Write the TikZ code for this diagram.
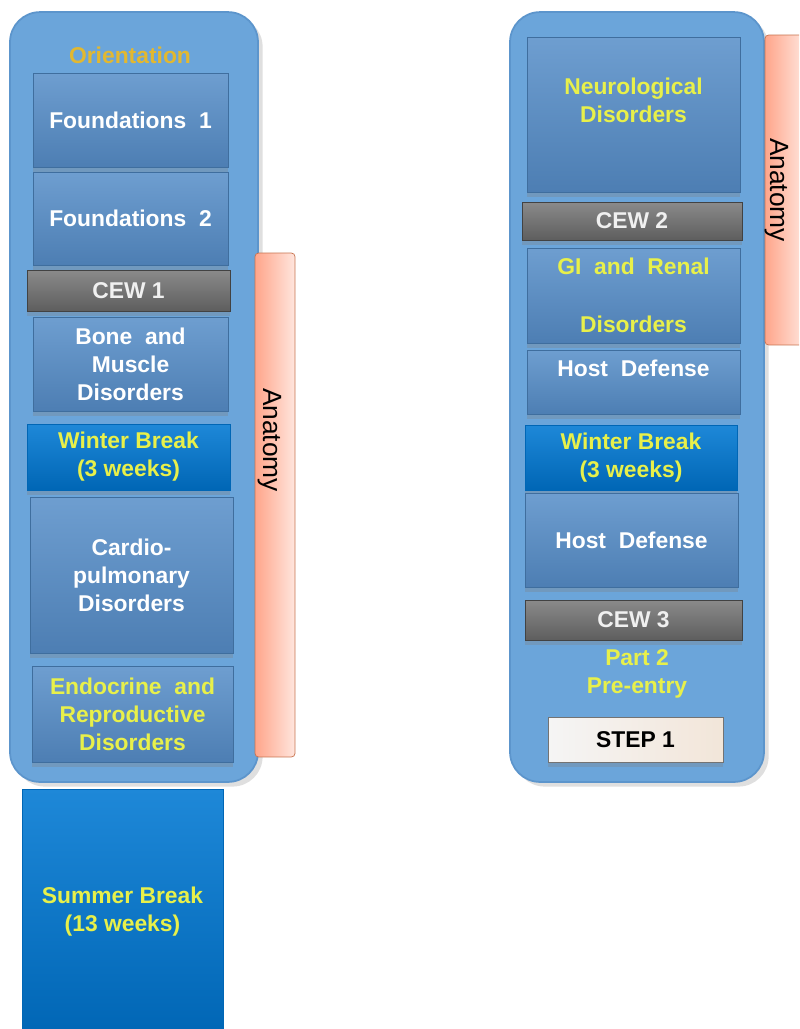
\documentclass[tikz,border=0pt]{standalone}
\usepackage{fontspec}
\setmainfont{Liberation Sans}
\usetikzlibrary{shadows}
\definecolor{colblue}{HTML}{6BA5DA}
\definecolor{colline}{HTML}{5C95CC}
\definecolor{blktop}{HTML}{6E9ED0}
\definecolor{blkbot}{HTML}{4D7EB3}
\definecolor{blkline}{HTML}{3F6E9E}
\definecolor{brktop}{HTML}{1E88D8}
\definecolor{brkbot}{HTML}{0066B5}
\definecolor{cewtop}{HTML}{8A8A8A}
\definecolor{cewbot}{HTML}{5E5E5E}
\definecolor{yel}{HTML}{E8F04A}
\definecolor{orient}{HTML}{E2B830}
\definecolor{anatleft}{HTML}{FFA58A}
\definecolor{anatright}{HTML}{FFE6DE}
\definecolor{anatline}{HTML}{C8734F}

\begin{document}
\begin{tikzpicture}[x=0.02cm,y=-0.02cm,
  col/.style={draw=colline,line width=1pt,fill=colblue,rounded corners=0.6cm,
    minimum height=15.4cm,drop shadow={opacity=0.25}},
  blk/.style={draw=blkline,top color=blktop,bottom color=blkbot,text=white,
    font=\bfseries\fontsize{13}{16}\selectfont,align=center,inner sep=0pt,
    minimum width=4.06cm,drop shadow={opacity=0.3,shadow xshift=0pt}},
  brk/.style={blk,draw=brkbot,top color=brktop,bottom color=brkbot,text=yel},
  cew/.style={blk,draw=cewbot!70!black,top color=cewtop,bottom color=cewbot,
    text=white!94!black,minimum height=0.8cm},
  anat/.style={draw=anatline,left color=anatleft,right color=anatright,
    rounded corners=2pt,font=\fontsize{15}{18}\selectfont,
    minimum width=0.8cm,inner sep=0pt},
  say/.style={text=yel,font=\bfseries\fontsize{13}{16}\selectfont,align=center}]
\clip (0,0) rectangle (799,1029);
\fill[white] (0,0) rectangle (799,1029);

% first year
\node[col,minimum width=4.96cm] (left) at (134,397) {};
\node[anat,minimum height=10.08cm] (anatL) at (275,505) {\rotatebox{-90}{Anatomy\hspace*{2.6cm}}\hspace*{0.2cm}};
\node[say,text=orient] (orient) at (130,55) {Orientation};
\node[blk,minimum width=3.9cm,minimum height=1.88cm] (found1) at (130.5,120) {Foundations~~1};
\node[blk,minimum width=3.9cm,minimum height=1.86cm] (found2) at (130.5,218.5) {Foundations~~2};
\node[cew,minimum height=0.82cm] (cew1) at (128.5,290.5) {CEW 1};
\node[blk,minimum width=3.9cm,minimum height=1.88cm] (bone) at (130.5,364) {Bone~~and\\Muscle\\Disorders};
\node[brk,minimum height=1.32cm] (winterL) at (128.5,457) {Winter Break\\(3 weeks)};
\node[blk,minimum height=3.12cm] (cardio) at (131.5,575) {Cardio-\\pulmonary\\Disorders};
\node[blk,text=yel,minimum width=4.02cm,minimum height=1.92cm] (endo) at (132.5,714) {Endocrine~~and\\Reproductive\\Disorders};
\node[brk,minimum width=4.02cm,minimum height=4.92cm] (summer) at (122.5,912) {Summer Break\\(13 weeks)};

% second year
\node[col,minimum width=5.08cm] (right) at (637,397) {};
\node[anat,minimum height=6.2cm] (anatR) at (785,190) {\rotatebox{-90}{Anatomy}\hspace*{0.32cm}};
\node[blk,text=yel,minimum width=4.26cm,minimum height=3.1cm] (neuro) at (633.5,114.5) {Neurological\\Disorders\\~};
\node[cew,minimum width=4.4cm,minimum height=0.76cm] (cew2) at (632,221) {CEW 2};
\node[blk,text=yel,minimum width=4.26cm,minimum height=1.9cm] (gi) at (633.5,295.5) {GI~~and~~Renal\\[0.6cm]Disorders};
\node[blk,minimum width=4.26cm,minimum height=1.28cm] (host1) at (633.5,382) {Host~~Defense\\~};
\node[brk,minimum width=4.24cm,minimum height=1.3cm] (winterR) at (631,457.5) {Winter Break\\(3 weeks)};
\node[blk,minimum width=4.26cm,minimum height=1.88cm] (host2) at (631.5,540) {Host~~Defense};
\node[cew,minimum width=4.34cm] (cew3) at (633.5,620) {CEW 3};
\node[say] (part2) at (637,674) {Part 2\\Pre-entry};
\node[blk,draw=black!55,left color=white!96!black,right color=brown!20!white,
  text=black,minimum width=3.5cm,minimum height=0.9cm] (step1) at (635.5,739.5) {STEP 1};
\end{tikzpicture}
\end{document}
